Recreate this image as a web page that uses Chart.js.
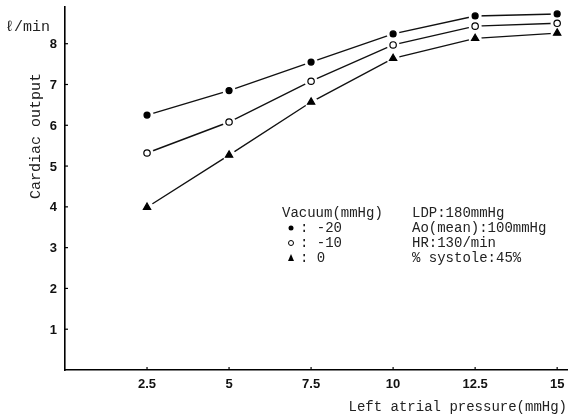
<!DOCTYPE html>
<html><head><meta charset="utf-8">
<script src="https://cdn.jsdelivr.net/npm/chart.js@4.4.0/dist/chart.umd.min.js"></script>
<style>html,body{margin:0;padding:0;background:#fff}#wrap{width:579px;height:416px}</style>
</head><body><div id="wrap"><canvas id="c" width="579" height="416"></canvas></div>
<script>
const pressure = [2.5, 5, 7.5, 10, 12.5, 15];
const vacuum20 = [6.25, 6.85, 7.55, 8.24, 8.68, 8.73];
const vacuum10 = [5.32, 6.08, 7.08, 7.97, 8.43, 8.50];
const vacuum0  = [3.99, 5.27, 6.57, 7.64, 8.13, 8.26];
const xTicks = [2.5, 5, 7.5, 10, 12.5, 15];
const yTicks = [1, 2, 3, 4, 5, 6, 7, 8];
const legendTitle = 'Vacuum(mmHg)';
const legendItems = [': -20', ': -10', ': 0'];
const conditions = ['LDP:180mmHg', 'Ao(mean):100mmHg', 'HR:130/min', '% systole:45%'];

const pts = arr => pressure.map((x, i) => ({x, y: arr[i]}));
const mono = '"Liberation Mono", "DejaVu Sans Mono", monospace';
const tickFont = 'bold 13px "Liberation Sans", Arial, sans-serif';

function markerSet(arr, style, fill, r) {
  return {data: pts(arr), showLine: false, pointStyle: style, pointRadius: r,
    pointBackgroundColor: fill, pointBorderColor: '#000', pointBorderWidth: 1.2, order: 0};
}
function lineSet(arr) {
  return {data: pts(arr), showLine: true, borderColor: '#111', borderWidth: 1.4,
    pointRadius: 6.5, pointBackgroundColor: '#fff', pointBorderWidth: 0, tension: 0, order: 1};
}

const annot = {
  id: 'annot',
  afterDatasetsDraw(chart) {
    const ctx = chart.ctx, xs = chart.scales.x, ys = chart.scales.y;
    ctx.save();
    ctx.strokeStyle = '#000'; ctx.lineWidth = 1.2;
    xTicks.forEach(v => { const px = xs.getPixelForValue(v);
      ctx.beginPath(); ctx.moveTo(px, ys.bottom); ctx.lineTo(px, ys.bottom - 3); ctx.stroke(); });
    yTicks.forEach(v => { const py = ys.getPixelForValue(v);
      ctx.beginPath(); ctx.moveTo(xs.left, py); ctx.lineTo(xs.left + 3, py); ctx.stroke(); });
    // y tick labels
    ctx.fillStyle = '#111';
    ctx.font = tickFont;
    ctx.textAlign = 'right';
    ctx.textBaseline = 'middle';
    yTicks.forEach(v => ctx.fillText(String(v), xs.left - 8, ys.getPixelForValue(v) + 1));
    ctx.fillStyle = '#222';
    ctx.font = '15px ' + mono;
    ctx.textAlign = 'left';
    ctx.fillText('ℓ/min', 5, 27);
    ctx.save();
    ctx.translate(36, 136); ctx.rotate(-Math.PI / 2);
    ctx.textAlign = 'center';
    ctx.font = '15px ' + mono;
    ctx.fillText('Cardiac output', 0, 0);
    ctx.restore();
    ctx.font = '14px ' + mono;
    ctx.fillText(legendTitle, 282, 213);
    const ly = [228, 243, 258];
    legendItems.forEach((t, i) => ctx.fillText(t, 300, ly[i]));
    conditions.forEach((t, i) => ctx.fillText(t, 412, 213 + 15 * i));
    ctx.fillStyle = '#000';
    ctx.beginPath(); ctx.arc(291, 228, 2.5, 0, Math.PI * 2); ctx.fill();
    ctx.beginPath(); ctx.arc(291, 243, 2.5, 0, Math.PI * 2); ctx.lineWidth = 1; ctx.stroke();
    ctx.beginPath(); ctx.moveTo(291, 254); ctx.lineTo(294, 261); ctx.lineTo(288, 261); ctx.closePath(); ctx.fill();
    ctx.restore();
  }
};

new Chart(document.getElementById('c'), {
  type: 'scatter',
  data: {datasets: [
    markerSet(vacuum20, 'circle', '#000', 3),
    markerSet(vacuum10, 'circle', '#fff', 3.2),
    markerSet(vacuum0, 'triangle', '#000', 4.2),
    lineSet(vacuum20), lineSet(vacuum10), lineSet(vacuum0)
  ]},
  options: {
    responsive: false, animation: false, devicePixelRatio: 1,
    layout: {padding: {left: 0, right: 12, top: 7, bottom: 0}},
    plugins: {legend: {display: false}, tooltip: {enabled: false}},
    scales: {
      x: {type: 'linear', min: 0, max: 15.3,
        afterBuildTicks: s => { s.ticks = xTicks.map(v => ({value: v})); },
        afterFit: s => { s.height = 46; },
        grid: {drawOnChartArea: false, drawTicks: false},
        border: {color: '#000', width: 1.6},
        ticks: {padding: 7, color: '#111', font: {family: 'Liberation Sans, Arial', size: 13, weight: 'bold'},
          callback: v => String(v), maxRotation: 0, autoSkip: false},
        title: {display: true, text: 'Left atrial pressure(mmHg)', align: 'end', color: '#222',
          font: {family: mono, size: 14}, padding: {top: 2, bottom: 0}}
      },
      y: {type: 'linear', min: 0, max: 8.9,
        afterBuildTicks: s => { s.ticks = yTicks.map(v => ({value: v})); },
        afterFit: s => { s.width = 65; },
        grid: {drawOnChartArea: false, drawTicks: false},
        border: {color: '#000', width: 1.6},
        ticks: {display: false}
      }
    }
  },
  plugins: [annot]
});
</script></body></html>
